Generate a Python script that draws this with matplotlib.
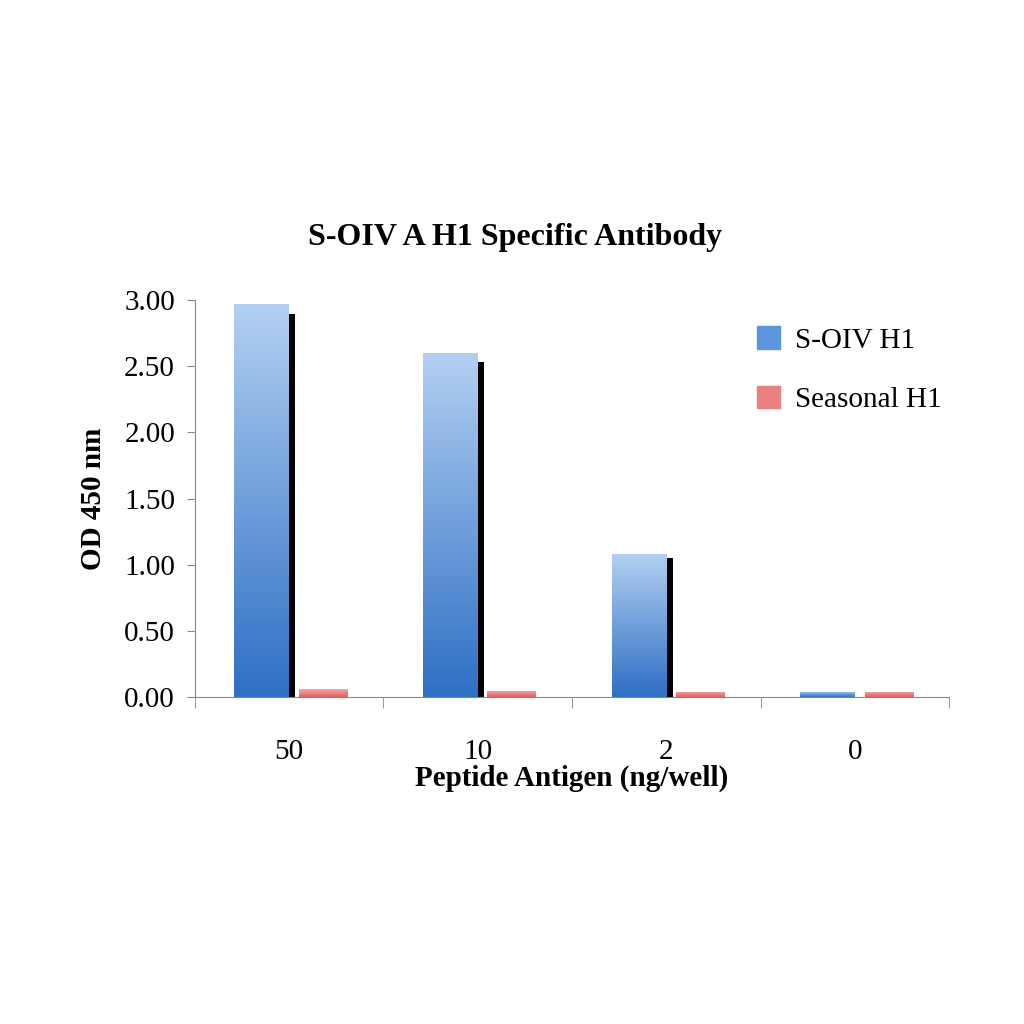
import matplotlib
matplotlib.use("Agg")
import matplotlib.pyplot as plt
import numpy as np
from matplotlib.patches import Patch
from matplotlib.colors import LinearSegmentedColormap

categories = ["50", "10", "2", "0"]
soiv = [2.97, 2.60, 1.08, 0.04]
seasonal = [0.06, 0.05, 0.04, 0.04]
yticks = [0.0, 0.5, 1.0, 1.5, 2.0, 2.5, 3.0]

plt.rcParams['font.family'] = ['Liberation Serif', 'DejaVu Serif']
fig = plt.figure(figsize=(10.24, 10.24), dpi=100)
ax = fig.add_axes([0.19, 0.319, 0.737, 0.388])
x = np.arange(len(categories))
w = 0.29
sw = 0.035
grad = np.linspace(0, 1, 256).reshape(-1, 1)
bcm = LinearSegmentedColormap.from_list("b", ["#2e6fc4", "#b3d0f2"])
rcm = LinearSegmentedColormap.from_list("r", ["#e06060", "#f2a8a8"])
# thin shadows on the right edge of the blue bars
ax.bar(x + sw / 2, [v * 0.975 if v > 0.5 else 0 for v in soiv], sw, color="black", zorder=1)
b1 = ax.bar(x - w / 2, soiv, w, color="#5b95dc", zorder=2)
b2 = ax.bar(x + w / 2 + sw, seasonal, w - sw, color="#ea8080", zorder=2)
for bars, cm in ((b1, bcm), (b2, rcm)):
    for r in bars:
        x0, y0 = r.get_x(), r.get_y()
        im = ax.imshow(grad, extent=[x0, x0 + r.get_width(), y0, y0 + r.get_height()],
                       aspect="auto", cmap=cm, origin="lower", zorder=3)
        im.set_clip_path(r)
ax.set_xlim(-0.5, 3.5)
ax.set_ylim(0, 3.0)
ax.set_yticks(yticks)
ax.set_yticklabels([f"{t:.2f}" for t in yticks], fontsize=21)
ax.set_xticks(x)
ax.set_xticklabels(categories, fontsize=21)
ax.set_xticks(np.arange(-0.5, 4, 1), minor=True)
ax.tick_params(axis='x', which='major', length=0, pad=30)
ax.tick_params(axis='x', which='minor', length=8, color="#888888")
ax.tick_params(axis='y', length=6, color="#888888", pad=8)
for s in ("top", "right"):
    ax.spines[s].set_visible(False)
ax.spines["left"].set_color("#888888")
ax.spines["bottom"].set_color("#888888")
ax.set_ylabel("OD 450 nm", fontsize=21, fontweight="bold", labelpad=12)
ax.set_xlabel("Peptide Antigen (ng/well)", fontsize=21, fontweight="bold", labelpad=0)
fig.text(0.503, 0.768, "S-OIV A H1 Specific Antibody", fontsize=23, fontweight="bold",
         ha="center", va="center")
handles = [Patch(color="#5b95dc"), Patch(color="#ea8080")]
ax.legend(handles, ["S-OIV H1", "Seasonal H1"], loc="upper left", bbox_to_anchor=(0.71, 1.0),
          frameon=False, fontsize=21, handlelength=0.8, handleheight=0.8, labelspacing=1.1,
          handletextpad=0.5)
fig.savefig("out.png", dpi=100)
